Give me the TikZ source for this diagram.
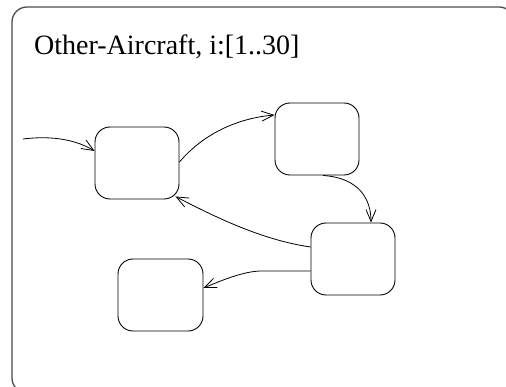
\documentclass[tikz,border=0pt]{standalone}
\usepackage{fontspec}
\setmainfont{Liberation Serif}
\usetikzlibrary{arrows.meta,calc}
\begin{document}
\begin{tikzpicture}[x=1pt,y=-1pt,
  statebox/.style={draw=black,line width=0.9pt,rounded corners=15pt,minimum width=84pt,minimum height=72pt,inner sep=0pt},
  trans/.style={draw=black,line width=0.8pt,-{Straight Barb[length=12pt,width=10pt,line width=0.8pt]}},
  frame/.style={draw=black!70,line width=1.3pt,rounded corners=15pt}]
\useasboundingbox (0,0) rectangle (506,387);
\clip (0,0) rectangle (506,387);
\draw[frame] (12,7) rectangle (514,393);
\node[anchor=base west,inner sep=0pt,font=\fontsize{28}{30}\selectfont] (title) at (34,55) {Other-Aircraft, i:[1..30]};
\node[statebox] (A) at (137,163) {};
\node[statebox] (B) at (317,139) {};
\node[statebox] (C) at (353,259) {};
\node[statebox,minimum width=85pt] (D) at (160.5,295) {};
\coordinate (start) at (23,139);
\draw[trans] (start) .. controls (55,135) and (78,141) .. ($(A.west)+(0,-12)$);
\draw[trans] ($(A.east)+(0,-1)$) .. controls (205,132) and (240,118) .. ($(B.west)+(0,-24)$);
\draw[trans] ($(B.south)+(6,0)$) .. controls (360,178) and (371,200) .. ($(C.north)+(18,0)$);
\draw[trans] ($(C.west)+(0,-12)$) .. controls (270,241) and (230,225) .. ($(A.south east)+(-4,-3)$);
\draw[trans] ($(C.west)+(0,12)$) -- (262,271) .. controls (245,271) and (225,279) .. ($(D.east)+(0,-7)$);
\end{tikzpicture}
\end{document}
